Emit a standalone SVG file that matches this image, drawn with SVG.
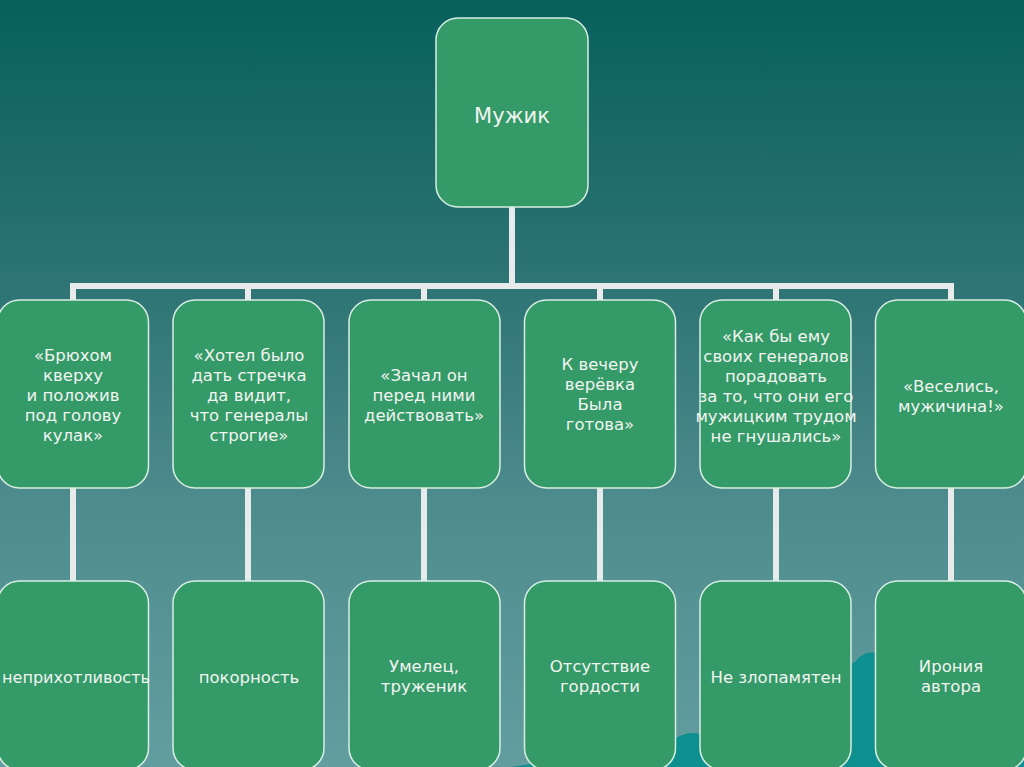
<svg xmlns="http://www.w3.org/2000/svg" width="1024" height="767" viewBox="0 0 1024 767">
<defs>
<linearGradient id="bg" x1="0" y1="0" x2="0" y2="1">
<stop offset="0" stop-color="#07605c"/>
<stop offset="0.38" stop-color="#2f7575"/>
<stop offset="0.65" stop-color="#4d8b8d"/>
<stop offset="1" stop-color="#629ea0"/>
</linearGradient>
<style>
.box{fill:#349a67;stroke:#d9eee2;stroke-width:1.5}
.t{font-family:"DejaVu Sans",Verdana,sans-serif;font-size:16.5px;fill:#f2f4f2;text-anchor:middle}
.big{font-size:21px}
.conn{fill:none;stroke:#e7ebeb;stroke-width:6;stroke-linejoin:miter}
</style>
</defs>
<rect x="0" y="0" width="1024" height="767" fill="url(#bg)"/>
<path d="M 510 767 Q 600 754 676 738 Q 688 731 700 734 L 855 662 Q 864 650 876 653 L 1024 640 L 1024 767 Z" fill="#0e9090"/>
<g id="connectors">
<path class="conn" d="M 512 207 L 512 286 M 73 300 L 73 286 L 951 286 L 951 300 M 248 286 L 248 300 M 424 286 L 424 300 M 600 286 L 600 300 M 776 286 L 776 300"/>
<path class="conn" d="M 73 488 L 73 581 M 248 488 L 248 581 M 424 488 L 424 581 M 600 488 L 600 581 M 776 488 L 776 581 M 951 488 L 951 581"/>
</g>
<g id="n0"><rect class="box" x="436" y="18" width="152" height="189" rx="22"/><text class="t big" x="512" y="123">Мужик</text></g>
<g id="n1"><rect class="box" x="-2.5" y="300" width="151" height="188" rx="22"/>
<text class="t" x="73" y="361">«Брюхом</text><text class="t" x="73" y="381">кверху</text><text class="t" x="73" y="401">и положив</text><text class="t" x="73" y="421">под голову</text><text class="t" x="73" y="441">кулак»</text></g>
<g id="n2"><rect class="box" x="173" y="300" width="151" height="188" rx="22"/>
<text class="t" x="249" y="361">«Хотел было</text><text class="t" x="249" y="381">дать стречка</text><text class="t" x="249" y="401">да видит,</text><text class="t" x="249" y="421">что генералы</text><text class="t" x="249" y="441">строгие»</text></g>
<g id="n3"><rect class="box" x="349" y="300" width="151" height="188" rx="22"/>
<text class="t" x="424" y="381">«Зачал он</text><text class="t" x="424" y="401">перед ними</text><text class="t" x="424" y="421">действовать»</text></g>
<g id="n4"><rect class="box" x="524.5" y="300" width="151" height="188" rx="22"/>
<text class="t" x="600" y="370">К вечеру</text><text class="t" x="600" y="390">верёвка</text><text class="t" x="600" y="410">Была</text><text class="t" x="600" y="430">готова»</text></g>
<g id="n5"><rect class="box" x="700" y="300" width="151" height="188" rx="22"/>
<text class="t" x="776" y="342">«Как бы ему</text><text class="t" x="776" y="362">своих генералов</text><text class="t" x="776" y="382">порадовать</text><text class="t" x="776" y="402">за то, что они его</text><text class="t" x="776" y="422">мужицким трудом</text><text class="t" x="776" y="442">не гнушались»</text></g>
<g id="n6"><rect class="box" x="875.5" y="300" width="151" height="188" rx="22"/>
<text class="t" x="951" y="392">«Веселись,</text><text class="t" x="951" y="412">мужичина!»</text></g>
<g id="n7"><rect class="box" x="-2.5" y="581" width="151" height="189" rx="22"/><text class="t" x="76" y="683" textLength="148" lengthAdjust="spacingAndGlyphs">неприхотливость</text></g>
<g id="n8"><rect class="box" x="173" y="581" width="151" height="189" rx="22"/><text class="t" x="249" y="683">покорность</text></g>
<g id="n9"><rect class="box" x="349" y="581" width="151" height="189" rx="22"/><text class="t" x="424" y="672">Умелец,</text><text class="t" x="424" y="692">труженик</text></g>
<g id="n10"><rect class="box" x="524.5" y="581" width="151" height="189" rx="22"/><text class="t" x="600" y="672">Отсутствие</text><text class="t" x="600" y="692">гордости</text></g>
<g id="n11"><rect class="box" x="700" y="581" width="151" height="189" rx="22"/><text class="t" x="776" y="683">Не злопамятен</text></g>
<g id="n12"><rect class="box" x="875.5" y="581" width="151" height="189" rx="22"/><text class="t" x="951" y="672">Ирония</text><text class="t" x="951" y="692">автора</text></g>
</svg>
